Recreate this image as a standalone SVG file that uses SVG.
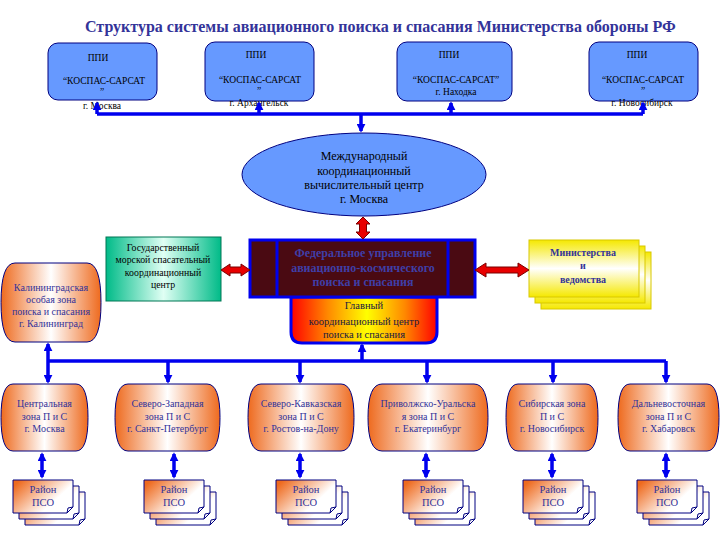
<svg xmlns="http://www.w3.org/2000/svg" width="720" height="540" viewBox="0 0 720 540">
<defs>
<style>
text{font-family:"Liberation Serif","Times New Roman",serif;text-anchor:middle}
.title{font-size:16px;font-weight:bold;fill:#333399;text-anchor:start}
.ppi{fill:#6699FF;stroke:#000080;stroke-width:1}
.pt{font-size:9.5px;fill:#000}
.et{font-size:12px;fill:#000}
.ft{font-size:12px;font-weight:bold;fill:#3F3FA8}
.mt{font-size:10.5px;fill:#1A1A40}
.zone{fill:url(#gOr);stroke:#000080;stroke-width:1}
.zt{font-size:10px;fill:#333399}
.card{fill:url(#gCard);stroke:#000080;stroke-width:1}
.ct{font-size:10.5px;fill:#333399}
.yc{fill:url(#gYel);stroke:#D8C800;stroke-width:1}
.yt{font-size:10px;font-weight:bold;fill:#333399}
.gt{font-size:9.8px;fill:#000}
.ln{fill:none;stroke:#0000EE;stroke-width:3.5}
.red{fill:#E80000;stroke:#7A0000;stroke-width:1}
</style>
<linearGradient id="gOr" x1="0" y1="0" x2="1" y2="0">
<stop offset="0" stop-color="#EE6A1E"/><stop offset="0.5" stop-color="#FFFFFF"/><stop offset="1" stop-color="#EE6A1E"/>
</linearGradient>
<linearGradient id="gCard" x1="0" y1="0.2" x2="1" y2="0.8">
<stop offset="0" stop-color="#EE6A1E"/><stop offset="0.7" stop-color="#FFFFFF"/><stop offset="1" stop-color="#FFFFFF"/>
</linearGradient>
<linearGradient id="gYel" x1="0" y1="0" x2="0" y2="1">
<stop offset="0" stop-color="#F5E800"/><stop offset="0.5" stop-color="#FFFFFF"/><stop offset="1" stop-color="#F5E800"/>
</linearGradient>
<linearGradient id="gGrn" x1="0" y1="0" x2="1" y2="0">
<stop offset="0" stop-color="#00BB88"/><stop offset="0.5" stop-color="#E0FFF4"/><stop offset="1" stop-color="#00BB88"/>
</linearGradient>
<linearGradient id="gMain" x1="0" y1="0" x2="1" y2="0">
<stop offset="0" stop-color="#FF0000"/><stop offset="0.25" stop-color="#FF8800"/><stop offset="0.52" stop-color="#FFFF00"/><stop offset="0.78" stop-color="#FF8800"/><stop offset="1" stop-color="#FF0000"/>
</linearGradient>
<marker id="ah" viewBox="0 0 10 10" refX="8" refY="5" markerWidth="9" markerHeight="9" markerUnits="userSpaceOnUse" orient="auto-start-reverse">
<path d="M0,0 L10,5 L0,10 z" fill="#0000EE"/>
</marker>
</defs>
<rect width="720" height="540" fill="#FFFFFF"/>
<text class="title" x="85" y="32">Структура системы авиационного поиска и спасания Министерства обороны РФ</text>

<g id="ppi1"><rect class="ppi" x="48" y="43" width="109" height="57" rx="10"/>
<text class="pt" x="98" y="61">ППИ</text><text class="pt" x="104" y="84">“КОСПАС-САРСАТ</text><text class="pt" x="102" y="95">”</text><text class="pt" x="102" y="109">г. Москва</text></g>
<g id="ppi2"><rect class="ppi" x="205" y="42" width="109" height="59" rx="10"/>
<text class="pt" x="256" y="58">ППИ</text><text class="pt" x="260" y="83">“КОСПАС-САРСАТ</text><text class="pt" x="259" y="94">”</text><text class="pt" x="259" y="106">г. Архангельск</text></g>
<g id="ppi3"><rect class="ppi" x="397" y="42" width="115" height="59" rx="10"/>
<text class="pt" x="449" y="58">ППИ</text><text class="pt" x="456" y="83">“КОСПАС-САРСАТ”</text><text class="pt" x="456" y="95">г. Находка</text></g>
<g id="ppi4"><rect class="ppi" x="589" y="42" width="109" height="59" rx="10"/>
<text class="pt" x="637" y="58">ППИ</text><text class="pt" x="643" y="83">“КОСПАС-САРСАТ</text><text class="pt" x="643" y="94">”</text><text class="pt" x="642" y="106">г. Новосибирск</text></g>

<g id="imcc"><ellipse cx="364" cy="174.5" rx="122" ry="41.5" fill="#6699FF" stroke="#000080" stroke-width="1"/>
<text class="et" x="364" y="160">Международный</text><text class="et" x="364" y="174.5">координационный</text><text class="et" x="364" y="189">вычислительный центр</text><text class="et" x="364" y="203">г. Москва</text></g>

<g id="gmrcc"><rect x="106" y="237" width="115" height="64" fill="url(#gGrn)" stroke="#007755" stroke-width="1"/>
<text class="gt" x="163" y="251">Государственный</text><text class="gt" x="163" y="263">морской спасательный</text><text class="gt" x="163" y="276">координационный</text><text class="gt" x="163" y="288">центр</text></g>

<g id="main"><path d="M291,297 H437 V332 Q437,343 426,343 H302 Q291,343 291,332 Z" fill="url(#gMain)" stroke="#0000EE" stroke-width="3"/>
<text class="mt" x="364" y="309">Главный</text><text class="mt" x="364" y="325">координационный центр</text><text class="mt" x="364" y="338">поиска и спасания</text></g>

<g id="fed"><rect x="250" y="240" width="225" height="57" fill="#4A0A12" stroke="#0000EE" stroke-width="3"/>
<line x1="277" y1="240" x2="277" y2="297" stroke="#0000EE" stroke-width="3"/><line x1="448" y1="240" x2="448" y2="297" stroke="#0000EE" stroke-width="3"/>
<text class="ft" x="363" y="257">Федеральное управление</text><text class="ft" x="363" y="272">авиационно-космического</text><text class="ft" x="363" y="286">поиска и спасания</text></g>

<g id="ministries"><rect class="yc" x="541" y="252" width="110" height="57"/><rect class="yc" x="535" y="246" width="110" height="57"/><rect class="yc" x="529" y="240" width="110" height="57"/>
<text class="yt" x="583" y="256">Министерства</text><text class="yt" x="583" y="269">и</text><text class="yt" x="583" y="283">ведомства</text></g>

<g id="kaliningrad"><path class="zone" d="M15,263 H87 Q101,263 101,302.5 Q101,342 87,342 H15 Q1,342 1,302.5 Q1,263 15,263 Z"/>
<text class="zt" x="51" y="291">Калининградская</text><text class="zt" x="51" y="303">особая зона</text><text class="zt" x="51" y="315">поиска и спасания</text><text class="zt" x="51" y="327">г. Калининград</text></g>

<g id="zone1"><path class="zone" d="M13,384 H76 Q88,384 88,417.5 Q88,451 76,451 H13 Q1,451 1,417.5 Q1,384 13,384 Z"/>
<text class="zt" x="44.5" y="407">Центральная</text><text class="zt" x="44.5" y="420">зона П и С</text><text class="zt" x="44.5" y="432">г. Москва</text></g>
<g id="zone2"><path class="zone" d="M128,384 H207 Q220,384 220,417.5 Q220,451 207,451 H128 Q115,451 115,417.5 Q115,384 128,384 Z"/>
<text class="zt" x="167.5" y="407">Северо-Западная</text><text class="zt" x="167.5" y="420">зона П и С</text><text class="zt" x="167.5" y="432">г. Санкт-Петербург</text></g>
<g id="zone3"><path class="zone" d="M261,384 H341 Q354,384 354,417.5 Q354,451 341,451 H261 Q248,451 248,417.5 Q248,384 261,384 Z"/>
<text class="zt" x="301" y="407">Северо-Кавказская</text><text class="zt" x="301" y="420">зона П и С</text><text class="zt" x="301" y="432">г. Ростов-на-Дону</text></g>
<g id="zone4"><path class="zone" d="M382,384 H474 Q488,384 488,417.5 Q488,451 474,451 H382 Q368,451 368,417.5 Q368,384 382,384 Z"/>
<text class="zt" x="428" y="407">Приволжско-Уральска</text><text class="zt" x="428" y="420">я зона П и С</text><text class="zt" x="428" y="432">г. Екатеринбург</text></g>
<g id="zone5"><path class="zone" d="M518,384 H586 Q598,384 598,417.5 Q598,451 586,451 H518 Q506,451 506,417.5 Q506,384 518,384 Z"/>
<text class="zt" x="552" y="407">Сибирская зона</text><text class="zt" x="552" y="420">П и С</text><text class="zt" x="552" y="432">г. Новосибирск</text></g>
<g id="zone6"><path class="zone" d="M630,384 H707 Q719,384 719,417.5 Q719,451 707,451 H630 Q618,451 618,417.5 Q618,384 630,384 Z"/>
<text class="zt" x="668.5" y="407">Дальневосточная</text><text class="zt" x="668.5" y="420">зона П и С</text><text class="zt" x="668.5" y="432">г. Хабаровск</text></g>

<g id="district1" transform="translate(13,480)"><path class="card" d="M12,12 h60 v27 l-6,6 h-54 z M66,45 l1,-5 l5,-1"/><path class="card" d="M6,6 h60 v27 l-6,6 h-54 z M60,39 l1,-5 l5,-1"/><path class="card" d="M0,0 h60 v27 l-6,6 h-54 z M54,33 l1,-5 l5,-1"/><text class="ct" x="30" y="13">Район</text><text class="ct" x="30" y="26">ПСО</text></g>
<g id="district2" transform="translate(144,480)"><path class="card" d="M12,12 h60 v27 l-6,6 h-54 z M66,45 l1,-5 l5,-1"/><path class="card" d="M6,6 h60 v27 l-6,6 h-54 z M60,39 l1,-5 l5,-1"/><path class="card" d="M0,0 h60 v27 l-6,6 h-54 z M54,33 l1,-5 l5,-1"/><text class="ct" x="30" y="13">Район</text><text class="ct" x="30" y="26">ПСО</text></g>
<g id="district3" transform="translate(276,480)"><path class="card" d="M12,12 h60 v27 l-6,6 h-54 z M66,45 l1,-5 l5,-1"/><path class="card" d="M6,6 h60 v27 l-6,6 h-54 z M60,39 l1,-5 l5,-1"/><path class="card" d="M0,0 h60 v27 l-6,6 h-54 z M54,33 l1,-5 l5,-1"/><text class="ct" x="30" y="13">Район</text><text class="ct" x="30" y="26">ПСО</text></g>
<g id="district4" transform="translate(403,480)"><path class="card" d="M12,12 h60 v27 l-6,6 h-54 z M66,45 l1,-5 l5,-1"/><path class="card" d="M6,6 h60 v27 l-6,6 h-54 z M60,39 l1,-5 l5,-1"/><path class="card" d="M0,0 h60 v27 l-6,6 h-54 z M54,33 l1,-5 l5,-1"/><text class="ct" x="30" y="13">Район</text><text class="ct" x="30" y="26">ПСО</text></g>
<g id="district5" transform="translate(523,480)"><path class="card" d="M12,12 h60 v27 l-6,6 h-54 z M66,45 l1,-5 l5,-1"/><path class="card" d="M6,6 h60 v27 l-6,6 h-54 z M60,39 l1,-5 l5,-1"/><path class="card" d="M0,0 h60 v27 l-6,6 h-54 z M54,33 l1,-5 l5,-1"/><text class="ct" x="30" y="13">Район</text><text class="ct" x="30" y="26">ПСО</text></g>
<g id="district6" transform="translate(637,480)"><path class="card" d="M12,12 h60 v27 l-6,6 h-54 z M66,45 l1,-5 l5,-1"/><path class="card" d="M6,6 h60 v27 l-6,6 h-54 z M60,39 l1,-5 l5,-1"/><path class="card" d="M0,0 h60 v27 l-6,6 h-54 z M54,33 l1,-5 l5,-1"/><text class="ct" x="30" y="13">Район</text><text class="ct" x="30" y="26">ПСО</text></g>

<g id="connectors">
<path class="ln" d="M97,114 H643"/>
<path class="ln" d="M97,114 V103" marker-end="url(#ah)"/>
<path class="ln" d="M259,114 V103" marker-end="url(#ah)"/>
<path class="ln" d="M451,114 V103" marker-end="url(#ah)"/>
<path class="ln" d="M643,114 V103" marker-end="url(#ah)"/>
<path class="ln" d="M361,114 V131" marker-end="url(#ah)"/>
<polygon class="red" points="363,217 370,224 366.5,224 366.5,232 370,232 363,239 356,232 359.5,232 359.5,224 356,224"/>
<polygon class="red" points="221,270 230,264 230,267 241,267 241,264 250,270 241,276 241,273 230,273 230,276"/>
<polygon class="red" points="475,270 486,263 486,267 518,267 518,263 529,270 518,277 518,273 486,273 486,277"/>
<path class="ln" d="M48,361 H666"/>
<path class="ln" d="M48,361 V344" marker-end="url(#ah)"/>
<path class="ln" d="M362,361 V345" marker-end="url(#ah)"/>
<path class="ln" d="M48,361 V382" marker-end="url(#ah)"/>
<path class="ln" d="M168,361 V382" marker-end="url(#ah)"/>
<path class="ln" d="M300,361 V382" marker-end="url(#ah)"/>
<path class="ln" d="M427,361 V382" marker-end="url(#ah)"/>
<path class="ln" d="M553,361 V382" marker-end="url(#ah)"/>
<path class="ln" d="M666,361 V382" marker-end="url(#ah)"/>
<path class="ln" d="M42,454 V477" marker-start="url(#ah)" marker-end="url(#ah)"/>
<path class="ln" d="M174,454 V477" marker-start="url(#ah)" marker-end="url(#ah)"/>
<path class="ln" d="M300,454 V477" marker-start="url(#ah)" marker-end="url(#ah)"/>
<path class="ln" d="M426,454 V477" marker-start="url(#ah)" marker-end="url(#ah)"/>
<path class="ln" d="M552,454 V477" marker-start="url(#ah)" marker-end="url(#ah)"/>
<path class="ln" d="M666,454 V477" marker-start="url(#ah)" marker-end="url(#ah)"/>
</g>
</svg>
